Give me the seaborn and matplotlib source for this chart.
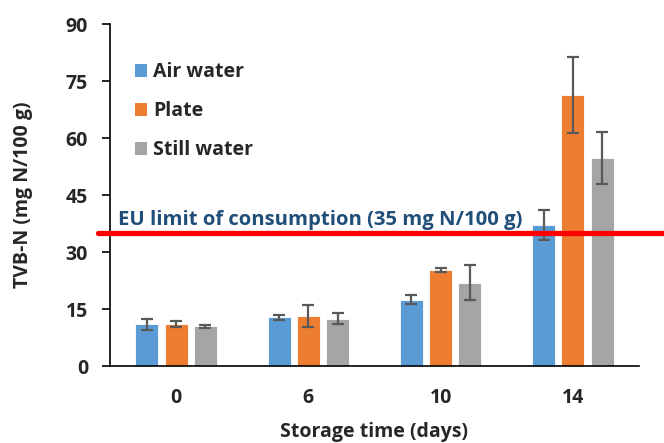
import numpy as np
import pandas as pd
import matplotlib
matplotlib.use("Agg")
import matplotlib.pyplot as plt
import seaborn as sns
from matplotlib.patches import Patch

# TVB-N values (mg N/100 g), mean and error
days = ["0", "6", "10", "14"]
treatments = ["Air water", "Plate", "Still water"]
air_water = [11.0, 12.8, 17.5, 37.1]
plate = [11.1, 13.2, 25.3, 71.3]
still_water = [10.4, 12.5, 21.9, 54.7]
air_water_err = [1.5, 0.7, 1.3, 3.9]
plate_err = [0.75, 2.9, 0.6, 10.0]
still_water_err = [0.45, 1.5, 4.6, 6.9]
eu_limit = 35

colors = ["#5B9BD5", "#ED7D31", "#A5A5A5"]

df = pd.DataFrame({
    "day": days * 3,
    "treatment": np.repeat(treatments, len(days)),
    "tvbn": air_water + plate + still_water,
    "err": air_water_err + plate_err + still_water_err,
})

sns.set_style("white")
plt.rcParams["font.family"] = ["Open Sans", "DejaVu Sans"]
plt.rcParams["font.weight"] = "bold"

fig = plt.figure(figsize=(6.64, 4.43), dpi=100)
ax = fig.add_axes([0.1657, 0.1738, 0.7966, 0.772])

sns.barplot(data=df, x="day", y="tvbn", hue="treatment", order=days,
            hue_order=treatments, palette=colors, errorbar=None,
            width=0.664, gap=0.21, saturation=1, legend=False, ax=ax,
            edgecolor="white", linewidth=0.6)

# error bars at the centres of the drawn bars
for bars, t in zip(ax.containers, treatments):
    sub = df[df.treatment == t].set_index("day").loc[days]
    xs = [b.get_x() + b.get_width() / 2 for b in bars]
    ax.errorbar(xs, sub["tvbn"], yerr=sub["err"], fmt="none",
                ecolor="#595959", elinewidth=1.6, capsize=4.3, capthick=1.6,
                zorder=3)

ax.set_ylim(0, 90)
ax.set_xlim(-0.5, 3.5)
ax.set_yticks(np.arange(0, 91, 15))
ax.set_xticks(range(len(days)))
ax.set_xticklabels(days)
ax.set_xticks([-0.5, 0.5, 1.5, 2.5, 3.5], minor=True)
ax.tick_params(axis="x", which="major", length=0, pad=16, labelsize=14)
ax.tick_params(axis="x", which="minor", direction="in", length=5.5, width=1.2,
               color="black")
ax.tick_params(axis="y", direction="out", length=5.8, width=1.2, pad=10,
               labelsize=14, left=True, color="black")

for s in ["top", "right"]:
    ax.spines[s].set_visible(False)
for s in ["left", "bottom"]:
    ax.spines[s].set_color("black")
    ax.spines[s].set_linewidth(1.2)

ax.set_xlabel("Storage time (days)", fontsize=14, fontweight="bold", va="baseline")
ax.set_ylabel("TVB-N (mg N/100 g)", fontsize=14, fontweight="bold")
ax.xaxis.set_label_coords(0.5, -0.208)
ax.yaxis.set_label_coords(-0.145, 0.5)

# EU limit line, running past both sides of the axes like the original
ax.axhline(eu_limit, xmin=-0.023, xmax=1.05, color="#FF0000", lw=3.8,
           clip_on=False, zorder=5)
ax.text(0.015, 37.1, "EU limit of consumption (35 mg N/100 g)",
        transform=ax.get_yaxis_transform(), color="#1F4E79", fontsize=14.6,
        fontweight="bold", va="baseline", ha="left")

handles = [Patch(facecolor=c, edgecolor="none") for c in colors]
ax.legend(handles, treatments, loc="upper left", bbox_to_anchor=(0.047, 0.888),
          frameon=False, handlelength=0.62, handleheight=0.62,
          handletextpad=0.3, labelspacing=0.98, borderpad=0, borderaxespad=0,
          prop={"weight": "bold", "size": 14})

fig.savefig("out.png", dpi=100)
